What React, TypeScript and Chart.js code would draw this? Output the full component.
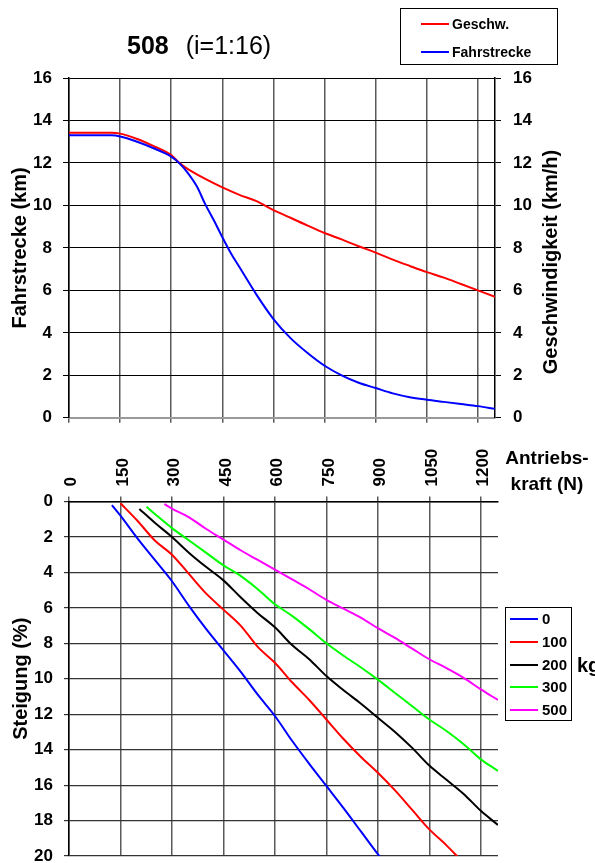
import React, { useEffect, useRef } from "react";
import { Chart, registerables } from "chart.js";
Chart.register(...registerables);

const FONT = "'Liberation Sans', Arial, Helvetica, sans-serif";

// Shared x axis (Antriebskraft in N)
const xTickValues = [0, 150, 300, 450, 600, 750, 900, 1050, 1200];
const xMax = 1250;

// Top panel: Geschwindigkeit (km/h) vs Antriebskraft
const geschwN = [0, 125, 150, 200, 250, 300, 325, 350, 400, 450, 500, 550, 600, 650, 700, 750, 800, 850, 900, 950, 1000, 1050, 1100, 1150, 1200, 1250];
const geschwKmh = [13.42, 13.42, 13.38, 13.13, 12.78, 12.37, 11.98, 11.7, 11.25, 10.85, 10.5, 10.2, 9.78, 9.42, 9.05, 8.7, 8.4, 8.08, 7.78, 7.45, 7.15, 6.86, 6.6, 6.3, 6.0, 5.7];

// Top panel: Fahrstrecke (km) vs Antriebskraft
const fahrN = [0, 125, 150, 200, 250, 300, 325, 350, 375, 400, 425, 450, 475, 500, 550, 600, 650, 700, 750, 800, 850, 900, 950, 1000, 1050, 1100, 1150, 1200, 1250];
const fahrKm = [13.3, 13.3, 13.25, 13.0, 12.68, 12.3, 11.97, 11.5, 10.9, 10.05, 9.3, 8.5, 7.75, 7.1, 5.8, 4.65, 3.75, 3.05, 2.45, 2.0, 1.65, 1.4, 1.15, 0.97, 0.85, 0.75, 0.65, 0.55, 0.42];

// Bottom panel: Steigung (%) per Zuladung (kg)
const load0N = [125, 150, 200, 250, 300, 350, 400, 450, 500, 550, 600, 650, 700, 750, 800, 850, 900, 910];
const load0 = [0.2, 0.8, 2.1, 3.3, 4.5, 5.9, 7.2, 8.4, 9.6, 10.9, 12.1, 13.5, 14.8, 16.05, 17.3, 18.6, 19.9, 20.15];

const load100N = [150, 200, 250, 300, 350, 400, 450, 500, 550, 600, 650, 700, 750, 800, 850, 900, 950, 1000, 1050, 1100, 1140];
const load100 = [0.1, 1.1, 2.2, 3.0, 4.1, 5.2, 6.1, 7.0, 8.2, 9.1, 10.2, 11.2, 12.3, 13.4, 14.4, 15.3, 16.3, 17.4, 18.5, 19.4, 20.2];

const load200N = [205, 250, 300, 350, 400, 450, 500, 550, 600, 650, 700, 750, 800, 850, 900, 950, 1000, 1050, 1100, 1150, 1200, 1250];
const load200 = [0.42, 1.2, 2.0, 2.9, 3.7, 4.45, 5.4, 6.3, 7.1, 8.1, 8.9, 9.85, 10.65, 11.4, 12.2, 13.0, 13.9, 14.9, 15.7, 16.5, 17.45, 18.25];

const load300N = [226, 250, 300, 350, 400, 450, 500, 550, 600, 650, 700, 750, 800, 850, 900, 950, 1000, 1050, 1100, 1150, 1200, 1250];
const load300 = [0.3, 0.7, 1.5, 2.2, 2.9, 3.6, 4.2, 4.95, 5.8, 6.45, 7.2, 8.0, 8.7, 9.35, 10.05, 10.8, 11.55, 12.3, 12.95, 13.7, 14.55, 15.2];

const load500N = [278, 300, 350, 400, 450, 500, 550, 600, 650, 700, 750, 800, 850, 900, 950, 1000, 1050, 1100, 1150, 1200, 1250];
const load500 = [0.15, 0.4, 0.9, 1.55, 2.15, 2.75, 3.3, 3.85, 4.4, 4.95, 5.55, 6.05, 6.55, 7.15, 7.7, 8.3, 8.9, 9.4, 9.95, 10.6, 11.2];

const loadLabels = ["0", "100", "200", "300", "500"];
const loadColors = ["#0000ff", "#ff0000", "#000000", "#00ff00", "#ff00ff"];

const pts = (xs: number[], ys: number[]) => xs.map((x, i) => ({ x, y: ys[i] }));

const tickFont = { family: FONT, size: 17, weight: "bold" as const };
const titleFont = { family: FONT, size: 20, weight: "bold" as const };

const setXTicks = (s: any) => {
  s.ticks = xTickValues.map((v) => ({ value: v }));
};
const plainLabel = (v: any) => String(v);

export default function App() {
  const topRef = useRef<HTMLCanvasElement>(null);
  const botRef = useRef<HTMLCanvasElement>(null);

  useEffect(() => {
    const lineDs = (label: string, xs: number[], ys: number[], color: string, yAxisID: string) => ({
      label,
      data: pts(xs, ys),
      borderColor: color,
      backgroundColor: color,
      borderWidth: 2,
      pointRadius: 0,
      fill: false,
      cubicInterpolationMode: "monotone" as const,
      yAxisID,
    });

    const top = new Chart(topRef.current!, {
      type: "line",
      data: {
        datasets: [
          lineDs("Fahrstrecke", fahrN, fahrKm, "#0000ff", "y"),
          lineDs("Geschw.", geschwN, geschwKmh, "#ff0000", "y2"),
        ],
      },
      options: {
        responsive: false,
        animation: false,
        devicePixelRatio: 1,
        layout: { padding: { top: 28, left: 0, right: 0, bottom: 0 } },
        plugins: { legend: { display: false }, tooltip: { enabled: false } },
        scales: {
          x: {
            type: "linear",
            position: "bottom",
            min: 0,
            max: xMax,
            afterBuildTicks: setXTicks,
            ticks: { display: false },
            grid: { color: "#5a5a5a", lineWidth: 1.5, tickLength: 5 },
            border: { display: true, color: "#9a9a9a", width: 2 },
            afterFit: (s: any) => {
              s.height = 15;
            },
          },
          y: {
            position: "left",
            min: 0,
            max: 16,
            ticks: { stepSize: 2, font: tickFont, color: "#000", padding: 11 },
            grid: { color: "#000", lineWidth: 1, tickLength: 6 },
            border: { display: true, color: "#000", width: 1.5 },
            title: {
              display: true,
              text: "Fahrstrecke (km)",
              font: titleFont,
              color: "#000",
              padding: { top: 8, bottom: 0 },
            },
            afterFit: (s: any) => {
              s.width = 69;
            },
          },
          y2: {
            position: "right",
            min: 0,
            max: 16,
            ticks: { stepSize: 2, font: tickFont, color: "#000", padding: 12 },
            grid: { drawOnChartArea: false, color: "#000", lineWidth: 1, tickLength: 6 },
            border: { display: true, color: "#000", width: 1.5 },
            afterFit: (s: any) => {
              s.width = 100;
            },
          },
        },
      },
    } as any);

    const loadSeries = [
      [load0N, load0],
      [load100N, load100],
      [load200N, load200],
      [load300N, load300],
      [load500N, load500],
    ];

    const bot = new Chart(botRef.current!, {
      type: "line",
      data: {
        datasets: loadSeries.map(([xs, ys], i) => lineDs(loadLabels[i] + " kg", xs, ys, loadColors[i], "y")),
      },
      options: {
        responsive: false,
        animation: false,
        devicePixelRatio: 1,
        layout: { padding: { top: 0, left: 0, right: 97, bottom: 27 } },
        plugins: { legend: { display: false }, tooltip: { enabled: false } },
        scales: {
          x: {
            type: "linear",
            position: "top",
            min: 0,
            max: xMax,
            afterBuildTicks: setXTicks,
            ticks: {
              minRotation: 90,
              maxRotation: 90,
              autoSkip: false,
              font: tickFont,
              color: "#000",
              padding: 10,
              labelOffset: 23,
              callback: plainLabel,
            },
            grid: { color: "#5a5a5a", lineWidth: 1.5, tickLength: 5 },
            border: { display: true, color: "#000", width: 1.5 },
            afterFit: (s: any) => {
              s.height = 61.5;
            },
          },
          y: {
            position: "left",
            reverse: true,
            min: 0,
            max: 20,
            ticks: { stepSize: 2, font: tickFont, color: "#000", padding: 11 },
            grid: { color: "#333", lineWidth: 1.2, tickLength: 5 },
            border: { display: true, color: "#000", width: 1.5 },
            title: {
              display: true,
              text: "Steigung (%)",
              font: titleFont,
              color: "#000",
              padding: { top: 9, bottom: 0 },
            },
            afterFit: (s: any) => {
              s.width = 69;
            },
          },
        },
      },
    } as any);

    return () => {
      top.destroy();
      bot.destroy();
    };
  }, []);

  const abs = (o: any) => ({ position: "absolute" as const, ...o });

  return (
    <div
      style={{
        position: "fixed",
        left: 0,
        top: 0,
        width: 595,
        height: 863,
        overflow: "hidden",
        background: "#fff",
        fontFamily: FONT,
        color: "#000",
      }}
    >
      <canvas ref={topRef} width={595} height={390} style={abs({ left: 0, top: 50, width: 595, height: 390 })} />
      <canvas ref={botRef} width={595} height={443} style={abs({ left: 0, top: 440, width: 595, height: 443 })} />

      {/* Title */}
      <div style={abs({ left: 127, top: 32, fontSize: 25, lineHeight: "26px", whiteSpace: "nowrap" })}>
        <span style={{ fontWeight: "bold" }}>508</span>
        <span style={{ marginLeft: 17 }}>(i=1:16)</span>
      </div>

      {/* Top legend */}
      <div style={abs({ left: 400, top: 8, width: 158, height: 57, border: "1px solid #000", boxSizing: "border-box" })} />
      <div style={abs({ left: 421, top: 23, width: 28, height: 2, background: "#ff0000" })} />
      <div style={abs({ left: 452, top: 15, fontSize: 14, lineHeight: "18px", fontWeight: "bold", whiteSpace: "nowrap" })}>Geschw.</div>
      <div style={abs({ left: 421, top: 51, width: 28, height: 2, background: "#0000ff" })} />
      <div style={abs({ left: 452, top: 43, fontSize: 14, lineHeight: "18px", fontWeight: "bold", whiteSpace: "nowrap" })}>Fahrstrecke</div>

      {/* Right axis title */}
      <div
        style={abs({
          left: 430,
          top: 250,
          width: 240,
          height: 24,
          lineHeight: "24px",
          fontSize: 20,
          fontWeight: "bold",
          textAlign: "center",
          whiteSpace: "nowrap",
          transform: "rotate(-90deg)",
        })}
      >
        Geschwindigkeit (km/h)
      </div>

      {/* X axis title */}
      <div style={abs({ left: 497, top: 445, width: 100, fontSize: 19, lineHeight: "26px", fontWeight: "bold", textAlign: "center", whiteSpace: "nowrap" })}>
        Antriebs-
        <br />
        kraft (N)
      </div>

      {/* Bottom legend */}
      <div style={abs({ left: 505, top: 607, width: 67, height: 114, border: "1px solid #000", boxSizing: "border-box" })} />
      {loadLabels.map((l, i) => {
        const cy = 619 + i * 22.8;
        return (
          <React.Fragment key={l}>
            <div style={abs({ left: 510, top: cy - 1, width: 28, height: 2, background: loadColors[i] })} />
            <div style={abs({ left: 542, top: cy - 9, fontSize: 15, lineHeight: "18px", fontWeight: "bold", whiteSpace: "nowrap" })}>{l}</div>
          </React.Fragment>
        );
      })}
      <div style={abs({ left: 577, top: 653, fontSize: 20, lineHeight: "24px", fontWeight: "bold", whiteSpace: "nowrap" })}>kg</div>
    </div>
  );
}
